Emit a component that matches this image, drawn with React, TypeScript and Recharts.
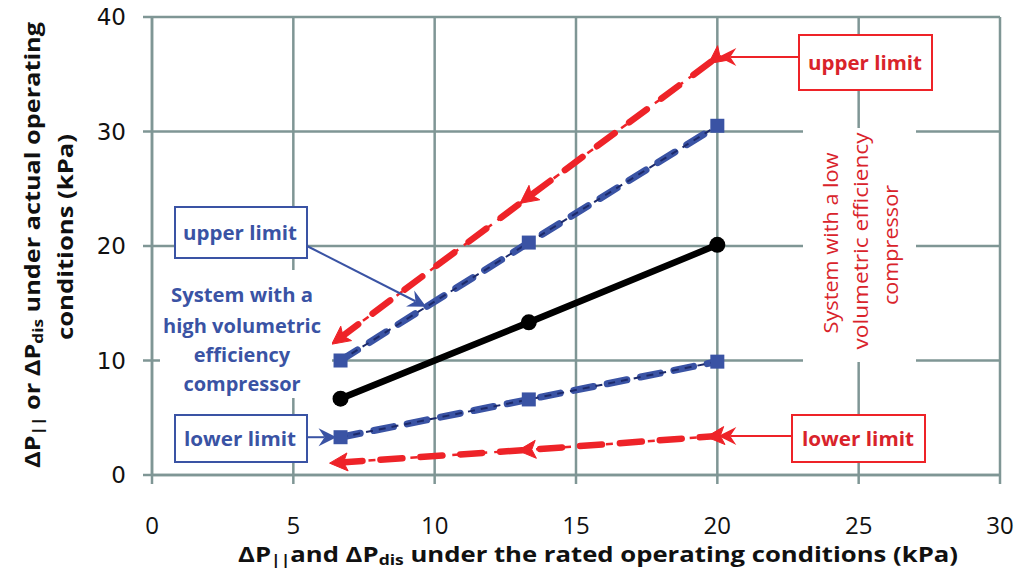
import React from 'react';
import { LineChart, Line, XAxis, YAxis, CartesianGrid } from 'recharts';

// ---- data ----
const ratedKPa = [6.67, 13.33, 20];
const actualKPa = [6.67, 13.33, 20.1];
const highEffUpper = [10, 20.3, 30.5];
const highEffLower = [3.3, 6.6, 9.9];
const lowEffUpper = [12, 24.3, 36.5];
const lowEffLower = [1.1, 2.2, 3.4];
const xTicks = [0, 5, 10, 15, 20, 25, 30];
const yTicks = [0, 10, 20, 30, 40];

const data = ratedKPa.map((x, i) => ({
  x,
  actual: actualKPa[i],
  hiU: highEffUpper[i],
  hiL: highEffLower[i],
  loU: lowEffUpper[i],
  loL: lowEffLower[i],
}));

// ---- layout (container shifted by -8px so chart coords = page coords) ----
const W = 1027;
const H = 575;
const OFF = 8; // annotation coordinates were designed in a frame offset by the body margin
const PLOT = { left: 152, top: 17, right: 1000, bottom: 475 };
const X_MAX = 30;
const Y_MAX = 40;
const Y_AXIS_W = 60;
const X_AXIS_H = 60;
const sx = (v: number) => PLOT.left - OFF + (v / X_MAX) * (PLOT.right - PLOT.left);
const sy = (v: number) => PLOT.bottom - OFF - (v / Y_MAX) * (PLOT.bottom - PLOT.top);

const RED = '#ee2328';
const RED_TEXT = '#d9232b';
const BLUE = '#3a53a4';
const NAVY = '#1c2a6b';
const GRID = '#7f9695';

const makeTri = (color: string, key: string) => (props: any) => {
  const { cx, cy, index, points } = props;
  if (cx == null || cy == null) return <g key={`${key}-${index}`} />;
  let ang: number;
  if (points && points.length > 1) {
    const a = index > 0 ? points[index - 1] : points[0];
    const b = index > 0 ? points[index] : points[1];
    ang = Math.atan2(a.y - b.y, a.x - b.x);
  } else {
    const arr = data.map((d: any) => ({ x: sx(d.x), y: sy(d[key]) }));
    const a = index > 0 ? arr[index - 1] : arr[0];
    const b = index > 0 ? arr[index] : arr[1];
    ang = Math.atan2(a.y - b.y, a.x - b.x);
  }
  const c = Math.cos(ang);
  const s = Math.sin(ang);
  const P = (f: number, n: number) => `${cx + c * f - s * n},${cy + s * f + c * n}`;
  const d = `M${P(11, 0)} L${P(-7, 9)} L${P(-3, 0)} L${P(-7, -9)} Z`;
  return <path key={`${key}-${index}`} d={d} fill={color} stroke={color} strokeWidth={1} />;
};

const SquareDot = (props: any) => {
  const { cx, cy, index } = props;
  if (cx == null || cy == null) return <g key={`sq-${index}`} />;
  return <rect key={`sq-${index}`} x={cx - 7} y={cy - 7} width={14} height={14} fill={BLUE} />;
};

const CircleDot = (props: any) => {
  const { cx, cy, index } = props;
  if (cx == null || cy == null) return <g key={`c-${index}`} />;
  return <circle key={`c-${index}`} cx={cx} cy={cy} r={8} fill="#000" />;
};

const Arrow = ({ x1, y1, x2, y2, color }: any) => {
  const ang = Math.atan2(y2 - y1, x2 - x1);
  const c = Math.cos(ang);
  const s = Math.sin(ang);
  const P = (f: number, n: number) => `${x2 + c * f - s * n},${y2 + s * f + c * n}`;
  const d = `M${P(0, 0)} L${P(-18, 9)} L${P(-12, 0)} L${P(-18, -9)} Z`;
  return (
    <g>
      <line x1={x1} y1={y1} x2={x2 - c * 12} y2={y2 - s * 12} stroke={color} strokeWidth={2} />
      <path d={d} fill={color} />
    </g>
  );
};

const boxFont = "'Open Sans', 'DejaVu Sans', sans-serif";

const Annotations = () => (
  <svg width={W} height={H} style={{ position: 'absolute', left: 0, top: 0, pointerEvents: 'none' }}>
    <g transform={`translate(${OFF}, ${OFF})`}>
      {/* y axis title */}
      <text
        x={23}
        y={237}
        transform="rotate(-90, 23, 237)"
        textAnchor="middle"
        dominantBaseline="central"
        fontFamily={boxFont}
        fontWeight="bold"
        fontSize={22}
        fill="#111"
        textLength={446}
        lengthAdjust="spacingAndGlyphs"
      >
        <tspan>ΔP</tspan>
        <tspan fontSize={15} dy={6}>||</tspan>
        <tspan dy={-6}> or ΔP</tspan>
        <tspan fontSize={15} dy={6}>dis</tspan>
        <tspan dy={-6}> under actual operating</tspan>
      </text>
      <text
        x={56}
        y={229}
        transform="rotate(-90, 56, 229)"
        textAnchor="middle"
        dominantBaseline="central"
        fontFamily={boxFont}
        fontWeight="bold"
        fontSize={22}
        fill="#111"
        textLength={206}
        lengthAdjust="spacingAndGlyphs"
      >
        conditions (kPa)
      </text>
      {/* x axis title */}
      <text
        x={590}
        y={545}
        textAnchor="middle"
        dominantBaseline="central"
        fontFamily={boxFont}
        fontWeight="bold"
        fontSize={22}
        fill="#111"
        textLength={720}
        lengthAdjust="spacingAndGlyphs"
      >
        <tspan>ΔP</tspan>
        <tspan fontSize={15} dy={6}>||</tspan>
        <tspan dy={-6}>and ΔP</tspan>
        <tspan fontSize={15} dy={6}>dis</tspan>
        <tspan dy={-6}> under the rated operating conditions  (kPa)</tspan>
      </text>

      {/* blue: high volumetric efficiency */}
      <rect x={152} y={262} width={172} height={128} fill="#fff" />
      <g fontFamily={boxFont} fontWeight="bold" fontSize={20} fill={BLUE} textAnchor="middle">
        <text x={234} y={294} textLength={142} lengthAdjust="spacingAndGlyphs">System with a</text>
        <text x={234} y={325} textLength={158} lengthAdjust="spacingAndGlyphs">high volumetric</text>
        <text x={234} y={354}>efficiency</text>
        <text x={234} y={383}>compressor</text>
      </g>
      <rect x={167} y={199} width={132} height={51} fill="#fff" stroke={BLUE} strokeWidth={2} />
      <text x={232} y={232} textAnchor="middle" fontFamily={boxFont} fontWeight="bold" fontSize={20} fill={BLUE} textLength={114} lengthAdjust="spacingAndGlyphs">
        upper limit
      </text>
      <Arrow x1={299} y1={238} x2={sx(9.7)} y2={sy(14.7)} color={BLUE} />
      <rect x={167} y={407} width={132} height={47} fill="#fff" stroke={BLUE} strokeWidth={2} />
      <text x={232} y={438} textAnchor="middle" fontFamily={boxFont} fontWeight="bold" fontSize={20} fill={BLUE} textLength={112} lengthAdjust="spacingAndGlyphs">
        lower limit
      </text>
      <Arrow x1={299} y1={sy(highEffLower[0])} x2={sx(ratedKPa[0]) - 4} y2={sy(highEffLower[0])} color={BLUE} />

      {/* red: low volumetric efficiency */}
      <rect x={795} y={120} width={113} height={234} fill="#fff" />
      <g fontFamily={boxFont} fontSize={20} fill={RED_TEXT} textAnchor="middle" dominantBaseline="central">
        <text x={822} y={235} transform="rotate(-90, 822, 235)" textLength={181} lengthAdjust="spacingAndGlyphs">System with a low</text>
        <text x={852} y={233} transform="rotate(-90, 852, 233)" textLength={217} lengthAdjust="spacingAndGlyphs">volumetric efficiency</text>
        <text x={882} y={237} transform="rotate(-90, 882, 237)" textLength={120} lengthAdjust="spacingAndGlyphs">compressor</text>
      </g>
      <rect x={791} y={27} width={133} height={55} fill="#fff" stroke={RED} strokeWidth={2} />
      <text x={857} y={62} textAnchor="middle" fontFamily={boxFont} fontWeight="bold" fontSize={20} fill={RED_TEXT} textLength={114} lengthAdjust="spacingAndGlyphs">
        upper limit
      </text>
      <Arrow x1={791} y1={sy(lowEffUpper[2])} x2={sx(ratedKPa[2]) + 1} y2={sy(lowEffUpper[2])} color={RED} />
      <rect x={784} y={407} width={133} height={47} fill="#fff" stroke={RED} strokeWidth={2} />
      <text x={850} y={438} textAnchor="middle" fontFamily={boxFont} fontWeight="bold" fontSize={20} fill={RED_TEXT} textLength={112} lengthAdjust="spacingAndGlyphs">
        lower limit
      </text>
      <Arrow x1={784} y1={sy(lowEffLower[2])} x2={sx(ratedKPa[2]) + 1} y2={sy(lowEffLower[2])} color={RED} />
    </g>
  </svg>
);

export default function App() {
  return (
    <div style={{ position: 'relative', width: W, height: H, background: '#fff', margin: `-${OFF}px 0 0 -${OFF}px` }}>
      <LineChart
        width={W}
        height={H}
        data={data}
        margin={{ top: PLOT.top, right: W - PLOT.right, bottom: H - PLOT.bottom - X_AXIS_H, left: PLOT.left - Y_AXIS_W }}
      >
        <CartesianGrid stroke={GRID} strokeWidth={2.5} />
        <XAxis
          dataKey="x"
          type="number"
          domain={[0, X_MAX]}
          ticks={xTicks}
          height={X_AXIS_H}
          stroke={GRID}
          strokeWidth={2.5}
          tickSize={9}
          tickMargin={33}
          tick={{ fontSize: 24, fill: '#111', fontFamily: "'Liberation Sans Narrow', 'Open Sans', sans-serif" }}
          tickLine={{ stroke: GRID, strokeWidth: 2.5 }}
          interval={0}
        />
        <YAxis
          type="number"
          domain={[0, Y_MAX]}
          ticks={yTicks}
          width={Y_AXIS_W}
          stroke={GRID}
          strokeWidth={2.5}
          tickSize={9}
          tickMargin={17}
          tick={{ fontSize: 23, fill: '#111', fontFamily: "'DejaVu Sans', sans-serif" }}
          tickLine={{ stroke: GRID, strokeWidth: 2.5 }}
          interval={0}
        />
        {/* low efficiency (red) */}
        <Line dataKey="loU" stroke={RED} strokeWidth={2.5} strokeDasharray="7 7" dot={false} isAnimationActive={false} />
        <Line dataKey="loU" stroke={RED} strokeWidth={6.5} strokeDasharray="22 18" strokeLinecap="round" dot={makeTri(RED, 'loU')} isAnimationActive={false} />
        <Line dataKey="loL" stroke={RED} strokeWidth={2.5} strokeDasharray="7 7" dot={false} isAnimationActive={false} />
        <Line dataKey="loL" stroke={RED} strokeWidth={6.5} strokeDasharray="22 18" strokeLinecap="round" dot={makeTri(RED, 'loL')} isAnimationActive={false} />
        {/* high efficiency (blue) */}
        <Line dataKey="hiU" stroke={BLUE} strokeWidth={7} strokeDasharray="20 14" strokeLinecap="round" dot={SquareDot} isAnimationActive={false} />
        <Line dataKey="hiU" stroke={NAVY} strokeWidth={2} strokeDasharray="7 6" dot={false} isAnimationActive={false} />
        <Line dataKey="hiL" stroke={BLUE} strokeWidth={7} strokeDasharray="20 14" strokeLinecap="round" dot={SquareDot} isAnimationActive={false} />
        <Line dataKey="hiL" stroke={NAVY} strokeWidth={2} strokeDasharray="7 6" dot={false} isAnimationActive={false} />
        {/* rated = actual (black) */}
        <Line dataKey="actual" stroke="#000" strokeWidth={6.5} dot={CircleDot} isAnimationActive={false} />
      </LineChart>
      <Annotations />
    </div>
  );
}
